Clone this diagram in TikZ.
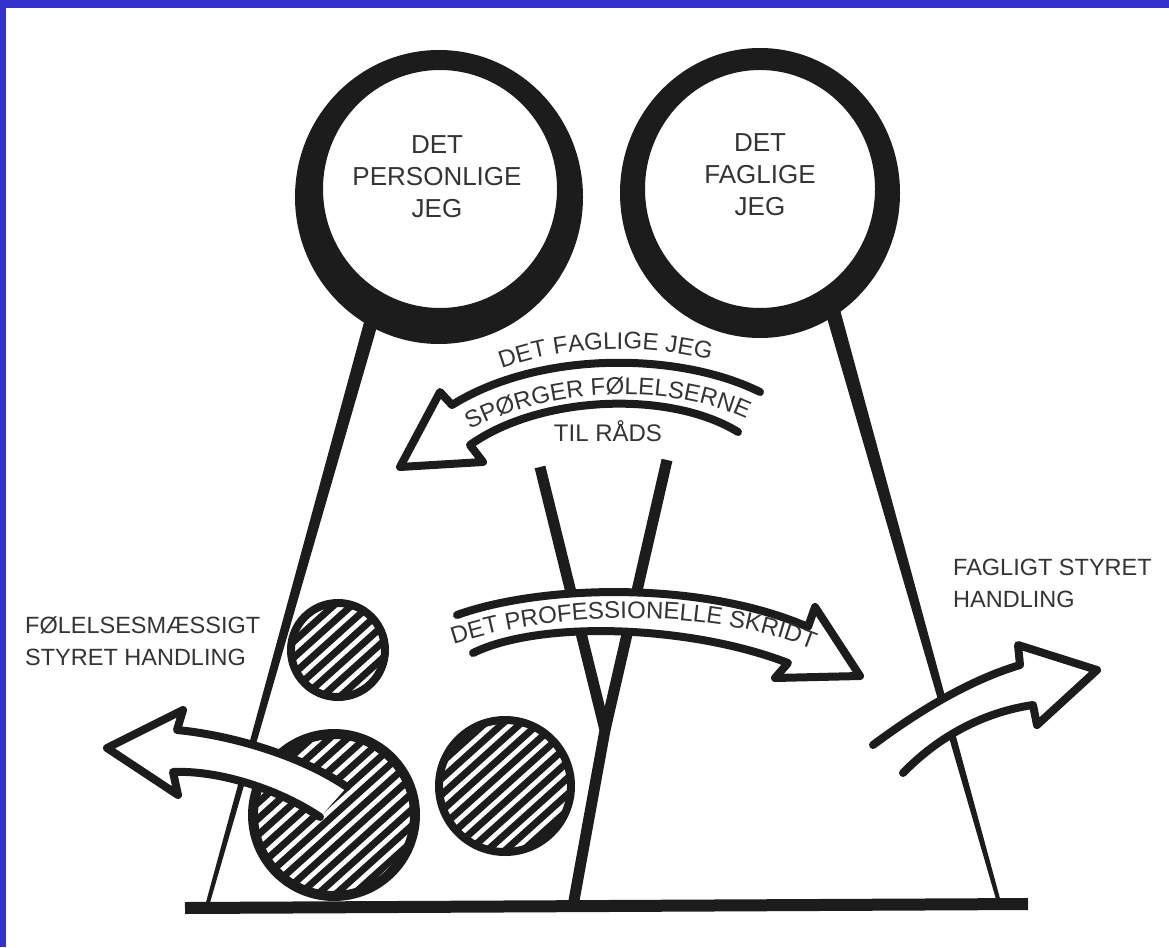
\documentclass[tikz,border=0pt]{standalone}
\usepackage{fontspec}
\setmainfont{Liberation Sans}
\usetikzlibrary{calc,decorations.text}
\definecolor{frameblue}{RGB}{51,51,204}
\definecolor{ink}{RGB}{28,28,28}
\definecolor{txt}{RGB}{52,52,52}
\newcommand\arcfont{\fontsize{24pt}{24pt}\selectfont\color{txt}}
\newcommand\hatchdisc[3]{%
  \begin{scope}
    \clip (#1) circle[radius=#2];
    \foreach \k in {-12,...,12}{
      \draw[hatchline] ($(#1)+({\k*12*0.669-110*0.743},{\k*12*0.743+110*0.669})$) --
                       ($(#1)+({\k*12*0.669+110*0.743},{\k*12*0.743-110*0.669})$);
    }
  \end{scope}
  \draw[ink, line width=#3] (#1) circle[radius=#2];
}
\begin{document}
\begin{tikzpicture}[x=1pt,y=-1pt,
  hatchline/.style={draw=ink, line width=7pt},
  band/.style={draw=ink, line width=8pt, line join=round, line cap=round},
  bandfill/.style={fill=white},
  stem/.style={fill=ink},
  vline/.style={draw=ink, line width=11pt, line join=round},
  base/.style={draw=ink, line width=12pt},
  circtext/.style={font=\fontsize{26pt}{32pt}\selectfont, text=txt, align=center, inner sep=0pt},
  sidetext/.style={font=\fontsize{23.5pt}{32pt}\selectfont, text=txt, align=left, inner sep=0pt, anchor=west},
  arctext/.style={decoration={text along path, text align=center, text={|\arcfont|#1}}, decorate}
]
% frame
\useasboundingbox (0,0) rectangle (1169,947);
\fill[frameblue] (0,0) rectangle (1169,947);
\fill[white] (6,8) rectangle (1169,947);

% named points
\coordinate (bl) at (185,908);
\coordinate (br) at (1028,904);
\coordinate (Lc) at (439,197);
\coordinate (Rc) at (760,193);
\coordinate (vl) at (540,467);
\coordinate (vr) at (667,460);
\coordinate (vj) at (605,730);
\coordinate (vb) at (573,906);

% base line
\draw[base] (bl) -- (br);

% stems of the two circles
\fill[stem] (367.3,310.1) -- (380.7,313.9) -- (208.9,906.5) -- (205.1,905.5) -- cycle;
\fill[stem] (823.8,307) -- (838.2,303) -- (1001.9,905.5) -- (998.1,906.5) -- cycle;

% the Y
\draw[vline] (vl) -- (vj) -- (vb);
\draw[vline] (vr) -- (vj);

% big rings
\fill[ink, even odd rule] (Lc) ellipse[x radius=144pt, y radius=147pt] (440,189) ellipse[x radius=117pt, y radius=119pt];
\fill[ink, even odd rule] (Rc) ellipse[x radius=140pt, y radius=145pt] (760,189) ellipse[x radius=115pt, y radius=119pt];

% hatched discs
\coordinate (hs) at (338,650);
\coordinate (hb) at (334,815);
\coordinate (hm) at (505,786);
\hatchdisc{hs}{47pt}{8pt}
\hatchdisc{hb}{81pt}{10pt}
\hatchdisc{hm}{66pt}{8pt}

% upper arrow (pointing left)
\coordinate (a1u0) at (760,392);
\coordinate (a1u1) at (452,405);
\coordinate (a1b1) at (440,392);
\coordinate (a1t) at (400,467);
\coordinate (a1b2) at (483,462);
\coordinate (a1l1) at (470,445);
\coordinate (a1l0) at (738,432);
\fill[bandfill] (a1u0) .. controls (680,352) and (540,350) .. (a1u1) -- (a1b1) -- (a1t) -- (a1b2) -- (a1l1) .. controls (540,395) and (670,390) .. (a1l0) -- cycle;
\draw[band] (a1u0) .. controls (680,352) and (540,350) .. (a1u1) -- (a1b1) -- (a1t) -- (a1b2) -- (a1l1) .. controls (540,395) and (670,390) .. (a1l0);

% middle arrow (pointing right)
\coordinate (a2u0) at (457,615);
\coordinate (a2u1) at (808,627);
\coordinate (a2b1) at (815,607);
\coordinate (a2t) at (860,676);
\coordinate (a2b2) at (775,678);
\coordinate (a2l1) at (788,663);
\coordinate (a2l0) at (473,653);
\fill[bandfill] (a2u0) .. controls (540,585) and (700,580) .. (a2u1) -- (a2b1) -- (a2t) -- (a2b2) -- (a2l1) .. controls (690,625) and (540,620) .. (a2l0) -- cycle;
\draw[band] (a2u0) .. controls (540,585) and (700,580) .. (a2u1) -- (a2b1) -- (a2t) -- (a2b2) -- (a2l1) .. controls (690,625) and (540,620) .. (a2l0);

% right arrow
\coordinate (a3u0) at (873,745);
\coordinate (a3u1) at (1020,665);
\coordinate (a3b1) at (1018,645);
\coordinate (a3t) at (1097,670);
\coordinate (a3b2) at (1037,725);
\coordinate (a3l1) at (1033,705);
\coordinate (a3l0) at (903,773);
\fill[bandfill] (a3u0) .. controls (920,710) and (970,680) .. (a3u1) -- (a3b1) -- (a3t) -- (a3b2) -- (a3l1) .. controls (985,712) and (940,735) .. (a3l0) -- cycle;
\draw[band] (a3u0) .. controls (920,710) and (970,680) .. (a3u1) -- (a3b1) -- (a3t) -- (a3b2) -- (a3l1) .. controls (985,712) and (940,735) .. (a3l0);

% left arrow
\coordinate (a4u0) at (347,787);
\coordinate (a4u1) at (177,730);
\coordinate (a4b1) at (183,710);
\coordinate (a4t) at (107,748);
\coordinate (a4b2) at (178,795);
\coordinate (a4l1) at (173,772);
\coordinate (a4l0) at (320,817);
\fill[bandfill] (a4u0) .. controls (300,755) and (230,735) .. (a4u1) -- (a4b1) -- (a4t) -- (a4b2) -- (a4l1) .. controls (220,770) and (280,790) .. (a4l0) -- cycle;
\draw[band] (a4u0) .. controls (300,755) and (230,735) .. (a4u1) -- (a4b1) -- (a4t) -- (a4b2) -- (a4l1) .. controls (220,770) and (280,790) .. (a4l0);

% texts
\node[circtext] (tL) at (437,177) {DET\\PERSONLIGE\\JEG};
\node[circtext] (tR) at (760,175) {DET\\FAGLIGE\\JEG};
\node[sidetext] (tFS) at (25,641.5) {FØLELSESMÆSSIGT\\STYRET HANDLING};
\node[sidetext] (tFA) at (953,583.5) {FAGLIGT STYRET\\HANDLING};
\node[font=\fontsize{24pt}{24pt}\selectfont, text=txt, inner sep=0pt, anchor=base] (tTR) at (608,441) {TIL RÅDS};

\path[arctext={DET FAGLIGE JEG}] (454,392) .. controls (540,336) and (682,338) .. (760,379);
\path[arctext={SPØRGER FØLELSERNE}] (457,438) .. controls (537,385) and (680,380) .. (760,426);
\path[arctext={DET PROFESSIONELLE SKRIDT}] (438,650) .. controls (540,610) and (715,603) .. (828,656);
\end{tikzpicture}
\end{document}
